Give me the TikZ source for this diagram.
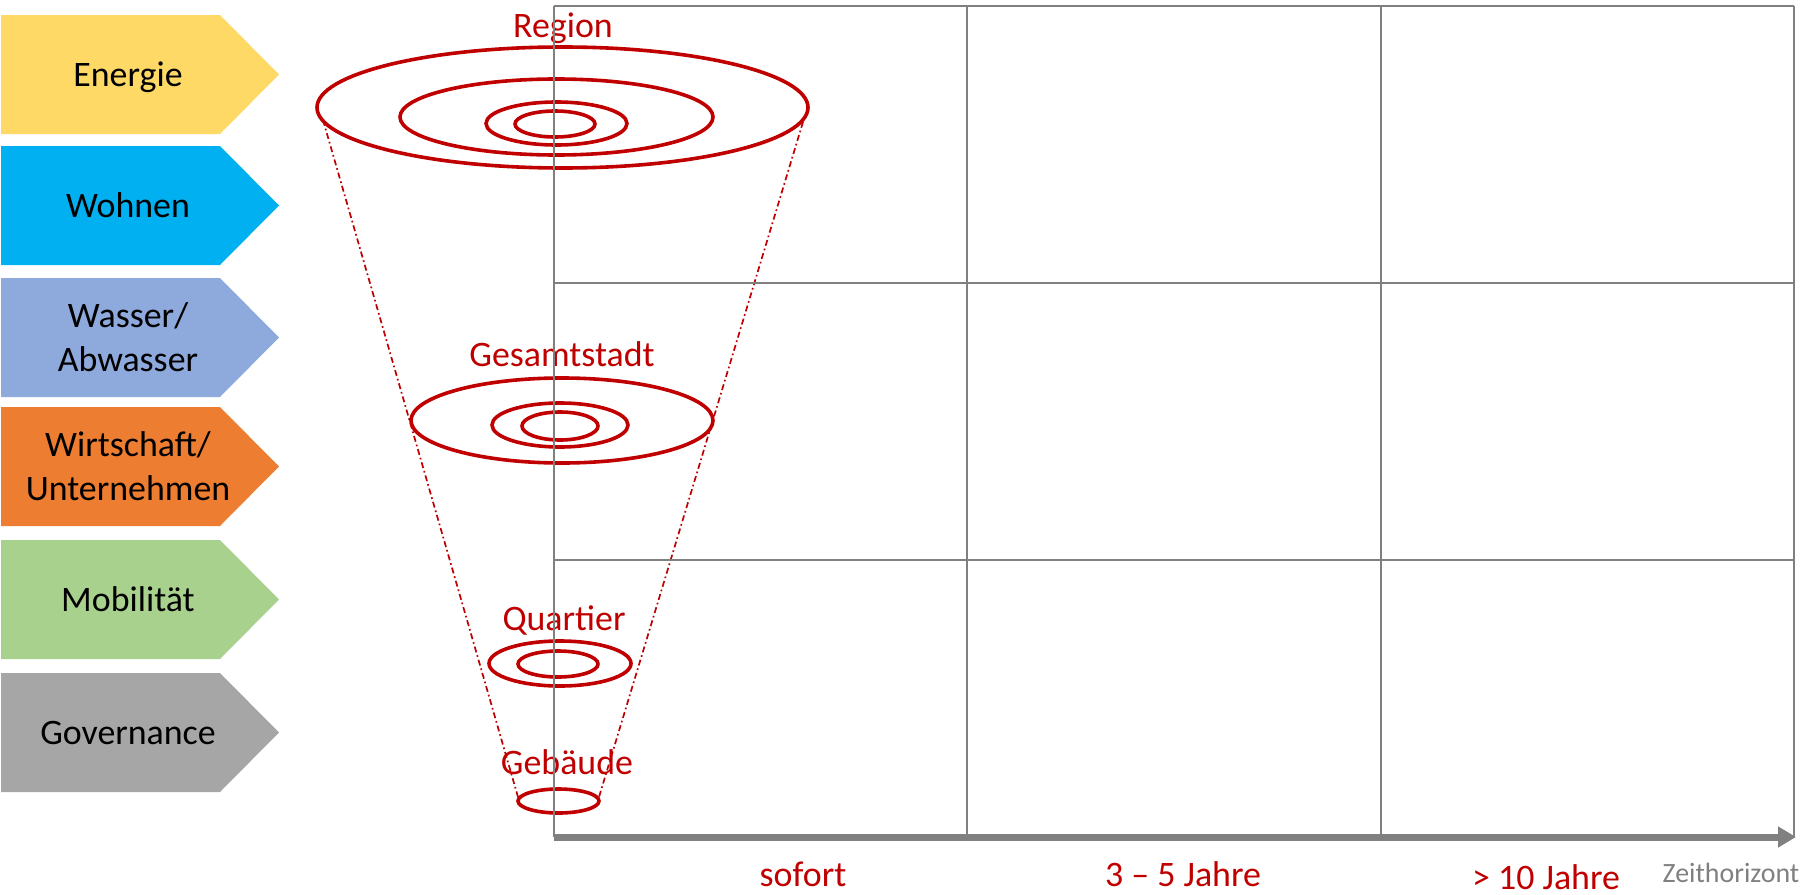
\documentclass[tikz,border=0pt]{standalone}
\usepackage{fontspec}
\setmainfont{Carlito}
\usetikzlibrary{arrows.meta}
\definecolor{dred}{HTML}{C00000}
\definecolor{lgray}{HTML}{808080}
\definecolor{cEnergie}{HTML}{FFD966}
\definecolor{cWohnen}{HTML}{00B0F0}
\definecolor{cWasser}{HTML}{8EA9DB}
\definecolor{cWirtschaft}{HTML}{ED7D31}
\definecolor{cMobil}{HTML}{A9D18E}
\definecolor{cGov}{HTML}{A6A6A6}
\newcommand\sectab[4]{%
  \fill[#3] (1,#2) -- (220,#2) -- (279,#2+59.5) -- (220,#2+119) -- (1,#2+119) -- cycle;
  \node[tablbl] (#1) at (128,#2+71) {#4};}
\newcommand\sectabtwo[5]{%
  \fill[#3] (1,#2) -- (220,#2) -- (279,#2+59.5) -- (220,#2+119) -- (1,#2+119) -- cycle;
  \node[tablbl] (#1) at (128,#2+49) {#4};
  \node[tablbl] (#1b) at (128,#2+93) {#5};}
\begin{document}
\begin{tikzpicture}[x=1bp,y=-1bp,
  tablbl/.style={font=\fontsize{36}{44}\selectfont, text=black, anchor=base, inner sep=0pt},
  redlbl/.style={font=\fontsize{36}{44}\selectfont, text=dred, anchor=base, inner sep=0pt},
  ring/.style={draw=dred, line width=3.6bp},
  gridline/.style={draw=lgray, line width=2.2bp},
  axisline/.style={draw=lgray, line width=7bp, -{Triangle[length=18bp,width=20bp]}},
  cone/.style={draw=dred, line width=1.7bp, dash pattern=on 6bp off 3bp on 1.7bp off 3bp}]
\useasboundingbox (0,0) rectangle (1811,895);
\fill[white] (0,0) rectangle (1811,895);

% category tabs
\sectab{energie}{15}{cEnergie}{Energie}
\sectab{wohnen}{146}{cWohnen}{Wohnen}
\sectabtwo{wasser}{278}{cWasser}{Wasser/}{Abwasser}
\sectabtwo{wirtschaft}{407}{cWirtschaft}{Wirtschaft/}{Unternehmen}
\sectab{mobil}{540}{cMobil}{Mobilität}
\sectab{gov}{673}{cGov}{Governance}

% cone (dash-dot tangents)
\coordinate (cl1) at (323,120);
\coordinate (cl2) at (518,797);
\coordinate (cr1) at (803,122);
\coordinate (cr2) at (599,797);
\draw[cone] (cl1) -- (cl2);
\draw[cone] (cr1) -- (cr2);

% Region rings
\draw[ring] (562.5,107.5) ellipse [x radius=245.5, y radius=60.5];
\draw[ring] (556.5,117) ellipse [x radius=156.5, y radius=38];
\draw[ring] (556.5,123.5) ellipse [x radius=70.5, y radius=21.5];
\draw[ring] (555,124) ellipse [x radius=40, y radius=13];
% Gesamtstadt rings
\draw[ring] (562,420.5) ellipse [x radius=151, y radius=42.5];
\draw[ring] (560,425) ellipse [x radius=68, y radius=22];
\draw[ring] (560,426) ellipse [x radius=38, y radius=14];
% Quartier rings
\draw[ring] (560,663.5) ellipse [x radius=71, y radius=22.5];
\draw[ring] (558,664) ellipse [x radius=40, y radius=13];
% Gebaeude ring
\draw[ring] (558.5,801) ellipse [x radius=40.5, y radius=12];

% level labels
\node[redlbl] (region) at (563,37) {Region};
\node[redlbl] (gesamt) at (562,366) {Gesamtstadt};
\node[redlbl] (quartier) at (564,630) {Quartier};
\node[redlbl] (gebaeude) at (567,774) {Gebäude};

% grid
\coordinate (g00) at (554,6);
\coordinate (g10) at (967,6);
\coordinate (g20) at (1381,6);
\coordinate (g30) at (1794,6);
\coordinate (g03) at (554,837);
\coordinate (g13) at (967,837);
\coordinate (g23) at (1381,837);
\coordinate (g33) at (1794,837);
\coordinate (h1l) at (554,283);
\coordinate (h1r) at (1794,283);
\coordinate (h2l) at (554,560);
\coordinate (h2r) at (1794,560);
\coordinate (axend) at (1796,837);
\draw[gridline] (g00) -- (g03);
\draw[gridline] (g10) -- (g13);
\draw[gridline] (g20) -- (g23);
\draw[gridline] (g30) -- (g33);
\draw[gridline] (g00) -- (g30);
\draw[gridline] (h1l) -- (h1r);
\draw[gridline] (h2l) -- (h2r);
\draw[axisline] (g03) -- (axend);

% time labels
\node[redlbl] (sofort) at (803,886) {sofort};
\node[redlbl] (mittel) at (1183,886) {3 – 5 Jahre};
\node[redlbl] (lang) at (1546,889) {> 10 Jahre};
\node[font=\fontsize{28}{34}\selectfont, text=lgray, anchor=base, inner sep=0pt] (zeit) at (1731,882) {Zeithorizont};
\end{tikzpicture}
\end{document}
